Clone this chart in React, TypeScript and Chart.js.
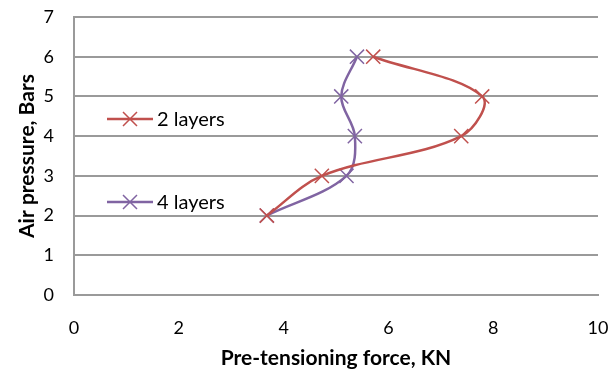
import React, { useEffect, useRef } from "react";
import { Chart, registerables } from "chart.js";

Chart.register(...registerables);

const seriesNames = ["2 layers", "4 layers"];
const pressure = [2, 3, 4, 5, 6];
const force2Layers = [3.68, 4.73, 7.39, 7.79, 5.71];
const force4Layers = [3.68, 5.2, 5.36, 5.1, 5.4];
const xTicks = [0, 2, 4, 6, 8, 10];
const yTicks = [0, 1, 2, 3, 4, 5, 6, 7];
const colors = ["#C0504D", "#8064A2"];

const FONT = "Lato, 'Open Sans', sans-serif";

const legendPlugin = {
  id: "inlineLegend",
  afterDatasetsDraw(chart: any) {
    const { ctx, chartArea } = chart;
    const rows = [chartArea.top + 102, chartArea.top + 185];
    ctx.save();
    seriesNames.forEach((name, i) => {
      const y = rows[i];
      const x0 = chartArea.left + 33;
      const x1 = x0 + 46;
      ctx.strokeStyle = colors[i];
      ctx.lineWidth = 2.5;
      ctx.beginPath();
      ctx.moveTo(x0, y);
      ctx.lineTo(x1, y);
      ctx.stroke();
      const cx = (x0 + x1) / 2;
      const r = 7;
      ctx.lineWidth = 1.5;
      ctx.beginPath();
      ctx.moveTo(cx - r, y - r);
      ctx.lineTo(cx + r, y + r);
      ctx.moveTo(cx - r, y + r);
      ctx.lineTo(cx + r, y - r);
      ctx.stroke();
      ctx.fillStyle = "#000";
      ctx.font = "20px " + FONT;
      ctx.textBaseline = "middle";
      ctx.textAlign = "left";
      ctx.fillText(name, x1 + 4, y + 1);
    });
    ctx.restore();
  },
};

export default function App() {
  const ref = useRef<HTMLCanvasElement | null>(null);
  useEffect(() => {
    if (!ref.current) return;
    const mk = (vals: number[]) => vals.map((v, i) => ({ x: v, y: pressure[i] }));
    const ds = (i: number, vals: number[]) => ({
      label: seriesNames[i],
      data: mk(vals),
      borderColor: colors[i],
      backgroundColor: colors[i],
      showLine: true,
      tension: 0.35,
      borderWidth: 2.5,
      pointStyle: "crossRot",
      pointRadius: 10,
      pointBorderWidth: 1.5,
    });
    const chart = new Chart(ref.current, {
      type: "scatter",
      data: {
        datasets: [ds(0, force2Layers), ds(1, force4Layers)],
      },
      options: {
        responsive: false,
        animation: false,
        layout: { padding: { top: 17, right: 12, left: 0, bottom: 0 } },
        plugins: {
          legend: { display: false },
          tooltip: { enabled: false },
        },
        scales: {
          x: {
            type: "linear",
            min: 0,
            max: 10,
            afterBuildTicks: (s: any) => {
              s.ticks = xTicks.map((v) => ({ value: v }));
            },
            afterFit: (s: any) => {
              s.height = 78;
              s.paddingLeft = 0;
              s.paddingRight = 0;
            },
            grid: { display: false, drawTicks: false },
            border: { display: true, color: "#9a9a9a", width: 2 },
            ticks: { color: "#000", font: { size: 18, family: FONT }, padding: 22, maxRotation: 0 },
            title: {
              display: true,
              text: "Pre-tensioning force, KN",
              color: "#000",
              font: { size: 21, weight: "bold", family: FONT },
              padding: { top: 0, bottom: 2 },
            },
          },
          y: {
            type: "linear",
            min: 0,
            max: 7,
            afterBuildTicks: (s: any) => {
              s.ticks = yTicks.map((v) => ({ value: v }));
            },
            afterFit: (s: any) => {
              s.width = 74;
              s.paddingTop = 0;
              s.paddingBottom = 0;
            },
            grid: { color: "#9a9a9a", lineWidth: 2, drawTicks: false },
            border: { display: true, color: "#9a9a9a", width: 2 },
            ticks: { color: "#000", font: { size: 18, family: FONT }, padding: 20 },
            title: {
              display: true,
              text: "Air pressure, Bars",
              color: "#000",
              font: { size: 21, weight: "bold", family: FONT },
              padding: { top: 15, bottom: 15 },
            },
          },
        },
      },
      plugins: [legendPlugin],
    });
    return () => chart.destroy();
  }, []);
  return (
    <div style={{ position: "absolute", left: 0, top: 0, width: 610, height: 373, background: "#fff" }}>
      <canvas ref={ref} width={610} height={373} />
    </div>
  );
}
